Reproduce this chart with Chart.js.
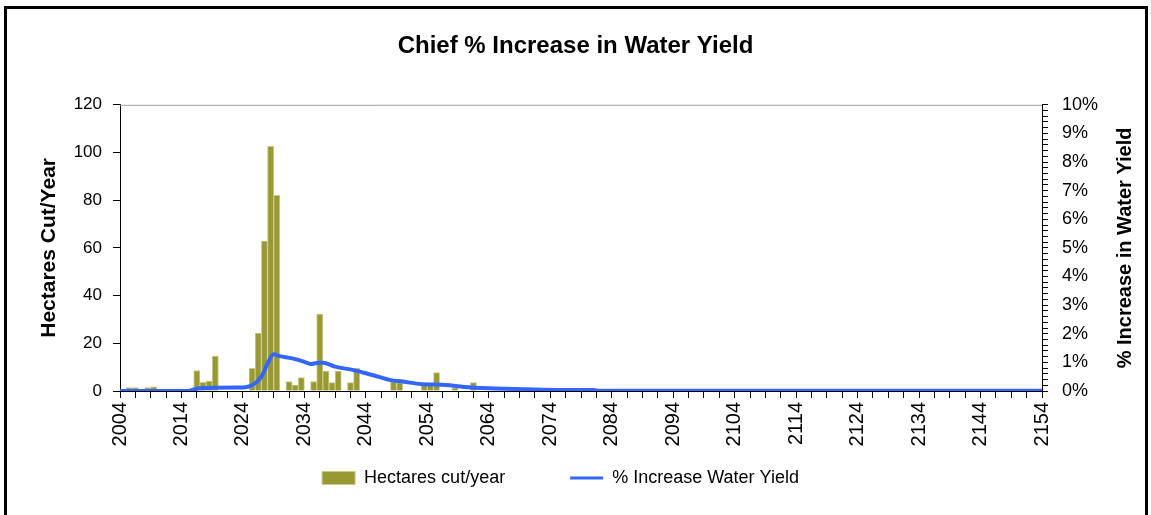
<!DOCTYPE html>
<html lang="en">
<head>
    <meta charset="UTF-8">
    <title>Chief % Increase in Water Yield</title>
    <script src="https://cdn.jsdelivr.net/npm/chart.js"></script>
    <style>
        body { margin: 0; background: #fff; }
        .chart-container { width: 1151px; height: 515px; }
    </style>
</head>
<body>
    <div class="chart-container">
        <canvas id="waterYieldChart"></canvas>
    </div>

    <script>
        // years that have a harvest, and hectares cut in each
        const cutYears = [2005, 2006, 2008, 2009, 2015, 2016, 2017, 2018, 2019, 2025, 2026, 2027, 2028, 2029,
            2031, 2032, 2033, 2035, 2036, 2037, 2038, 2039, 2041, 2042, 2048, 2049, 2053, 2054, 2055, 2058, 2061];
        const hectaresCut = [1.4, 1.4, 1.4, 1.8, 0.7, 8.6, 3.6, 4.2, 14.6, 9.5, 24.3, 62.9, 102.6, 82,
            4, 2.5, 5.6, 4, 32.2, 8.4, 3.5, 8.4, 3.5, 9.5, 3.9, 3.5, 3.5, 3.2, 7.7, 1.3, 3.5];

        // % increase in water yield, read at these years
        const yieldYears = [2004, 2015, 2016, 2017, 2023, 2024, 2025, 2026, 2027, 2028, 2029, 2030, 2032, 2034,
            2035, 2036, 2037, 2039, 2042, 2044, 2046, 2048, 2050, 2053, 2057, 2060, 2065, 2070, 2076, 2081, 2082, 2154];
        const yieldPct = [0, 0, 0.05, 0.1, 0.12, 0.12, 0.16, 0.27, 0.5, 0.95, 1.28, 1.22, 1.14, 1.02,
            0.94, 0.98, 0.99, 0.85, 0.73, 0.62, 0.5, 0.38, 0.33, 0.24, 0.21, 0.14, 0.09, 0.06, 0.035, 0.035, 0.01, 0.01];

        const xMin = 2004;
        const xMax = 2154;
        const labelEvery = 10;

        const fontFamily = "'Liberation Sans', Arial, sans-serif";
        Chart.defaults.font.family = fontFamily;
        Chart.defaults.color = '#000';

        // white page, outer frame, top edge of the plot and the right axis title
        const framePlugin = {
            id: 'frame',
            beforeDraw(chart) {
                const ctx = chart.ctx;
                ctx.save();
                ctx.fillStyle = '#fff';
                ctx.fillRect(0, 0, chart.width, chart.height);
                ctx.restore();
            },
            afterDraw(chart) {
                const ctx = chart.ctx;
                const area = chart.chartArea;
                ctx.save();
                ctx.strokeStyle = '#000';
                ctx.lineWidth = 3;
                ctx.strokeRect(5.5, 7.5, 1141, 540);

                ctx.strokeStyle = '#a0a0a0';
                ctx.lineWidth = 1;
                ctx.beginPath();
                ctx.moveTo(area.left, area.top + 0.5);
                ctx.lineTo(area.right, area.top + 0.5);
                ctx.stroke();

                ctx.translate(1125, (area.top + area.bottom) / 2);
                ctx.rotate(-Math.PI / 2);
                ctx.font = 'bold 20px ' + fontFamily;
                ctx.fillStyle = '#000';
                ctx.textAlign = 'center';
                ctx.textBaseline = 'middle';
                ctx.fillText('% Increase in Water Yield', 0, 0);
                ctx.restore();
            }
        };

        new Chart(document.getElementById('waterYieldChart'), {
            type: 'bar',
            data: {
                datasets: [{
                    type: 'bar',
                    label: 'Hectares cut/year',
                    // each bar fills its year, so it sits half a year right of the tick
                    data: cutYears.map((yr, i) => ({ x: yr + 0.5, y: hectaresCut[i] })),
                    backgroundColor: '#999933',
                    borderColor: '#c9c98a',
                    borderWidth: 1,
                    barPercentage: 1,
                    categoryPercentage: 1,
                    yAxisID: 'y',
                    order: 1
                }, {
                    type: 'line',
                    label: '% Increase Water Yield',
                    data: yieldYears.map((yr, i) => ({ x: yr, y: yieldPct[i] })),
                    borderColor: '#3366ff',
                    backgroundColor: '#3366ff',
                    borderWidth: 4,
                    pointRadius: 0,
                    cubicInterpolationMode: 'monotone',
                    yAxisID: 'y1',
                    order: 0
                }]
            },
            options: {
                responsive: true,
                maintainAspectRatio: false,
                animation: false,
                layout: { padding: { left: 0, right: 0, top: 0, bottom: 18 } },
                plugins: {
                    title: {
                        display: true,
                        text: 'Chief % Increase in Water Yield',
                        font: { size: 24, weight: 'bold' },
                        color: '#000',
                        padding: { top: 32, bottom: 44 }
                    },
                    legend: {
                        position: 'bottom',
                        labels: {
                            font: { size: 18 },
                            color: '#000',
                            usePointStyle: true,
                            pointStyleWidth: 33,
                            boxHeight: 13,
                            padding: 10,
                            generateLabels(chart) {
                                const items = Chart.defaults.plugins.legend.labels.generateLabels(chart)
                                    .sort((a, b) => a.datasetIndex - b.datasetIndex);
                                items[0].pointStyle = 'rect';
                                items[0].text = items[0].text + '           ';
                                items[1].pointStyle = 'line';
                                items[1].lineWidth = 3;
                                items[1].text = items[1].text + '      ';
                                return items;
                            }
                        }
                    },
                    tooltip: { enabled: false }
                },
                scales: {
                    x: {
                        type: 'linear',
                        min: xMin,
                        max: xMax,
                        offset: false,
                        grid: { offset: false, drawOnChartArea: false, tickLength: 7, tickColor: '#000' },
                        border: { color: '#000' },
                        ticks: {
                            stepSize: 2.5,
                            autoSkip: false,
                            minRotation: 90,
                            maxRotation: 90,
                            padding: 4,
                            font: { size: 20 },
                            callback: v => ((v - xMin) % labelEvery === 0 ? String(v) : '')
                        },
                        afterFit(scale) { scale.height = 68; }
                    },
                    y: {
                        position: 'left',
                        min: 0,
                        max: 120,
                        grid: { drawOnChartArea: false, tickLength: 7, tickColor: '#000' },
                        border: { color: '#000' },
                        ticks: { stepSize: 20, padding: 11, font: { size: 17 } },
                        title: {
                            display: true,
                            text: 'Hectares Cut/Year',
                            font: { size: 21, weight: 'bold' },
                            padding: { top: 37, bottom: 0 }
                        },
                        afterFit(scale) { scale.width = 120; }
                    },
                    y1: {
                        position: 'right',
                        min: 0,
                        max: 10,
                        grid: { drawOnChartArea: false, tickLength: 6, tickColor: '#000' },
                        border: { color: '#000' },
                        ticks: {
                            stepSize: 0.2,
                            autoSkip: false,
                            padding: 14,
                            font: { size: 18 },
                            callback: v => (Math.abs(v - Math.round(v)) < 1e-6 ? Math.round(v) + '%' : '')
                        },
                        afterFit(scale) { scale.width = 109; }
                    }
                }
            },
            plugins: [framePlugin]
        });
    </script>
</body>
</html>
